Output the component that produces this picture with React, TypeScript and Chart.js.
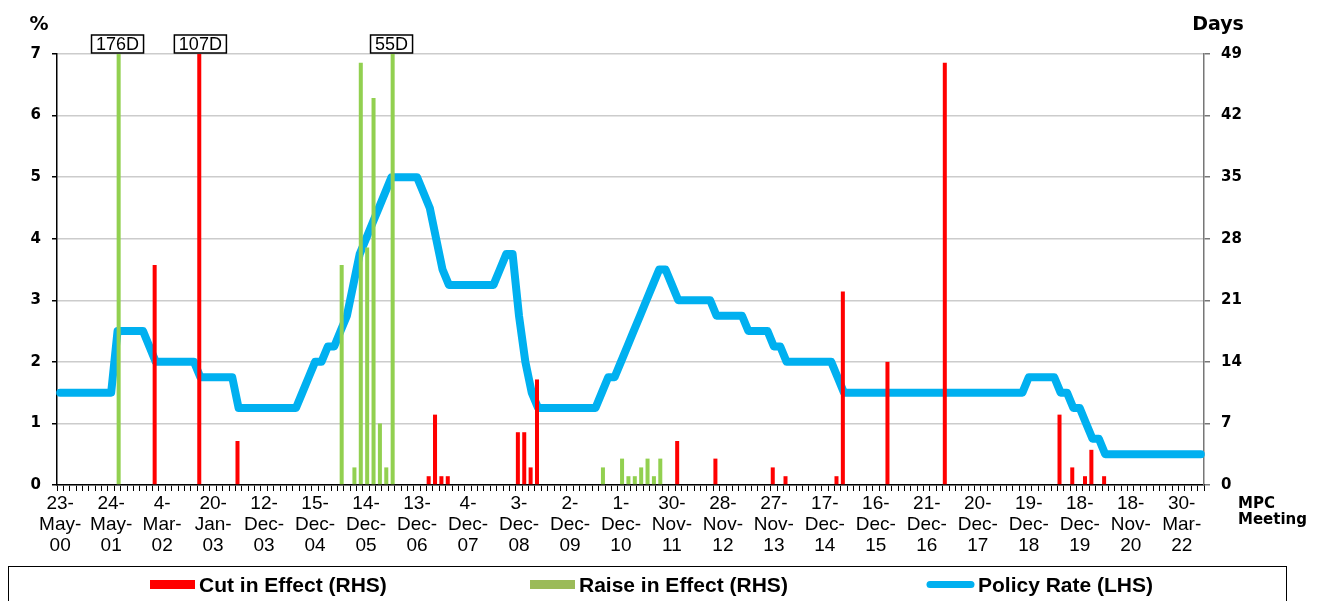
import React, { useEffect, useRef } from 'react';
import { Chart, registerables } from 'chart.js';

Chart.register(...registerables);

// Tick labels: every 8th MPC meeting
const tickDates = [
  '23-May-00', '24-May-01', '4-Mar-02', '20-Jan-03', '12-Dec-03', '15-Dec-04',
  '14-Dec-05', '13-Dec-06', '4-Dec-07', '3-Dec-08', '2-Dec-09', '1-Dec-10',
  '30-Nov-11', '28-Nov-12', '27-Nov-13', '17-Dec-14', '16-Dec-15', '21-Dec-16',
  '20-Dec-17', '19-Dec-18', '18-Dec-19', '18-Nov-20', '30-Mar-22',
];
const tickEvery = 8;

// Policy rate (%) at each MPC meeting
const policyRate = [
  1.5, 1.5, 1.5, 1.5, 1.5, 1.5, 1.5, 1.5,
  1.5, 2.5, 2.5, 2.5, 2.5, 2.5, 2.25, 2.0,
  2.0, 2.0, 2.0, 2.0, 2.0, 2.0, 1.75, 1.75,
  1.75, 1.75, 1.75, 1.75, 1.25, 1.25, 1.25, 1.25,
  1.25, 1.25, 1.25, 1.25, 1.25, 1.25, 1.5, 1.75,
  2.0, 2.0, 2.25, 2.25, 2.5, 2.75, 3.25, 3.75,
  4.0, 4.25, 4.5, 4.75, 5.0, 5.0, 5.0, 5.0,
  5.0, 4.75, 4.5, 4.0, 3.5, 3.25, 3.25, 3.25,
  3.25, 3.25, 3.25, 3.25, 3.25, 3.5, 3.75, 3.75,
  2.75, 2.0, 1.5, 1.25, 1.25, 1.25, 1.25, 1.25,
  1.25, 1.25, 1.25, 1.25, 1.25, 1.5, 1.75, 1.75,
  2.0, 2.25, 2.5, 2.75, 3.0, 3.25, 3.5, 3.5,
  3.25, 3.0, 3.0, 3.0, 3.0, 3.0, 3.0, 2.75,
  2.75, 2.75, 2.75, 2.75, 2.5, 2.5, 2.5, 2.5,
  2.25, 2.25, 2.0, 2.0, 2.0, 2.0, 2.0, 2.0,
  2.0, 2.0, 1.75, 1.5, 1.5, 1.5, 1.5, 1.5,
  1.5, 1.5, 1.5, 1.5, 1.5, 1.5, 1.5, 1.5,
  1.5, 1.5, 1.5, 1.5, 1.5, 1.5, 1.5, 1.5,
  1.5, 1.5, 1.5, 1.5, 1.5, 1.5, 1.5, 1.5,
  1.75, 1.75, 1.75, 1.75, 1.75, 1.5, 1.5, 1.25,
  1.25, 1.0, 0.75, 0.75, 0.5, 0.5, 0.5, 0.5,
  0.5, 0.5, 0.5, 0.5, 0.5, 0.5, 0.5, 0.5,
  0.5, 0.5, 0.5, 0.5,
];

// Cuts in effect: meeting index and days
const cutMeetings = [15, 22, 28, 58, 59, 60, 61, 72, 73, 74, 75, 97, 103, 112, 114, 122, 123, 130, 139, 157, 159, 161, 162, 164];
const cutDays = [25, 107, 5, 1, 8, 1, 1, 6, 6, 2, 12, 5, 3, 2, 1, 1, 22, 14, 48, 8, 2, 1, 4, 1];

// Raises in effect: meeting index and days
const raiseMeetings = [9, 44, 46, 47, 48, 49, 50, 51, 52, 85, 88, 89, 90, 91, 92, 93, 94];
const raiseDays = [176, 25, 2, 48, 27, 44, 7, 2, 55, 2, 3, 1, 1, 2, 3, 1, 3];

const seriesNames = ['Cut in Effect (RHS)', 'Raise in Effect (RHS)', 'Policy Rate (LHS)'];
const seriesColors = ['#ff0000', '#92d050', '#00b0f0'];
const legendSwatchColors = ['#ff0000', '#9bbb59', '#00b0f0'];

const meetingLabels = policyRate.map((_, i) => (i % tickEvery === 0 ? tickDates[i / tickEvery] : ''));

function sparse(idx: number[], vals: number[]) {
  const out: (number | null)[] = policyRate.map(() => null);
  idx.forEach((m, k) => { out[m] = vals[k]; });
  return out;
}

const BOLD_V = '"DejaVu Sans", Verdana, sans-serif';
const ARIAL = '"Liberation Sans", Arial, sans-serif';

const overflowLabels = {
  id: 'overflowLabels',
  afterDatasetsDraw(chart: any) {
    const { ctx, chartArea: a } = chart;
    const xs = chart.scales.x;
    ctx.save();
    chart.data.datasets.forEach((ds: any) => {
      if (ds.type !== 'bar') return;
      const ys = chart.scales[ds.yAxisID];
      ds.data.forEach((v: number | null, j: number) => {
        if (v == null || v <= ys.max) return;
        const x = xs.getPixelForValue(j);
        const text = `${v}D`;
        ctx.font = `18px ${ARIAL}`;
        const w = ctx.measureText(text).width + 9;
        const h = 18;
        const top = a.top - 19;
        ctx.fillStyle = '#fff';
        ctx.fillRect(x - w / 2, top, w, h);
        ctx.lineWidth = 1.5;
        ctx.strokeStyle = '#000';
        ctx.strokeRect(x - w / 2, top, w, h);
        ctx.fillStyle = '#000';
        ctx.textAlign = 'center';
        ctx.textBaseline = 'alphabetic';
        ctx.fillText(text, x, a.top - 4);
      });
    });
    ctx.restore();
  },
};

const decorations = {
  id: 'decorations',
  afterDraw(chart: any) {
    const { ctx, chartArea: a } = chart;
    ctx.save();
    ctx.fillStyle = '#000';
    ctx.textBaseline = 'alphabetic';
    ctx.font = `bold 19px ${BOLD_V}`;
    ctx.textAlign = 'center';
    ctx.fillText('%', a.left - 18, a.top - 24);
    ctx.fillText('Days', a.right + 14, a.top - 24);
    ctx.font = `bold 15px ${BOLD_V}`;
    ctx.textAlign = 'left';
    ctx.fillText('MPC', a.right + 34, a.bottom + 23);
    ctx.fillText('Meeting', a.right + 34, a.bottom + 39);

    // legend box
    ctx.lineWidth = 1;
    ctx.strokeStyle = '#000';
    ctx.strokeRect(8.5, 566.5, 1278, 60);
    const itemX = [150, 530, 926];
    chart.data.datasets.forEach((ds: any, k: number) => {
      const x0 = itemX[k];
      let tx;
      if (ds.type === 'bar') {
        ctx.fillStyle = ds.legendColor;
        ctx.fillRect(x0, 580, 45, 9);
        tx = x0 + 49;
      } else {
        ctx.strokeStyle = ds.legendColor;
        ctx.lineWidth = 7;
        ctx.lineCap = 'round';
        ctx.beginPath();
        ctx.moveTo(x0 + 4, 584.5);
        ctx.lineTo(x0 + 45, 584.5);
        ctx.stroke();
        tx = x0 + 52;
      }
      ctx.fillStyle = '#000';
      ctx.font = `bold 21px ${ARIAL}`;
      ctx.textAlign = 'left';
      ctx.fillText(ds.label, tx, 592);
    });
    ctx.restore();
  },
};

export default function App() {
  const ref = useRef<HTMLCanvasElement>(null);

  useEffect(() => {
    const canvas = ref.current;
    if (!canvas) return;
    const chart = new Chart(canvas, {
      type: 'bar',
      data: {
        labels: meetingLabels,
        datasets: [
          {
            type: 'bar',
            label: seriesNames[0],
            data: sparse(cutMeetings, cutDays),
            backgroundColor: seriesColors[0],
            legendColor: legendSwatchColors[0],
            yAxisID: 'y1',
            categoryPercentage: 0.7,
            barPercentage: 1.8,
            clip: 0,
            order: 1,
          } as any,
          {
            type: 'bar',
            label: seriesNames[1],
            data: sparse(raiseMeetings, raiseDays),
            backgroundColor: seriesColors[1],
            legendColor: legendSwatchColors[1],
            yAxisID: 'y1',
            categoryPercentage: 0.7,
            barPercentage: 1.8,
            clip: 0,
            order: 1,
          } as any,
          {
            type: 'line',
            label: seriesNames[2],
            data: policyRate,
            borderColor: seriesColors[2],
            legendColor: legendSwatchColors[2],
            backgroundColor: seriesColors[2],
            borderWidth: 8,
            pointRadius: 0,
            tension: 0,
            borderJoinStyle: 'round',
            borderCapStyle: 'round',
            yAxisID: 'y',
            order: 2,
          } as any,
        ],
      },
      options: {
        responsive: false,
        animation: false,
        devicePixelRatio: 1,
        layout: { padding: { top: 54, left: 0, right: 0, bottom: 0 } },
        plugins: { legend: { display: false }, tooltip: { enabled: false } },
        scales: {
          x: {
            type: 'category',
            offset: true,
            grid: {
              display: true,
              offset: true,
              drawOnChartArea: false,
              drawTicks: true,
              tickLength: 6,
              color: '#000',
              lineWidth: 1,
            },
            border: { display: true, color: '#000', width: 1.5 },
            ticks: {
              autoSkip: false,
              maxRotation: 0,
              minRotation: 0,
              padding: 3,
              color: '#000',
              font: { family: ARIAL, size: 19, lineHeight: 1.08 },
              callback: function (this: any, v: any) {
                const s = this.getLabelForValue(v) as string;
                if (!s) return '';
                const p = s.split('-');
                return [p[0] + '-', p[1] + '-', p[2]];
              },
            },
            afterFit: (s: any) => { s.height = 116; },
          },
          y: {
            position: 'left',
            min: 0,
            max: 7,
            ticks: { stepSize: 1, color: '#000', padding: 11, font: { family: BOLD_V, weight: 'bold', size: 15 } },
            grid: { color: '#cccccc', lineWidth: 1.5, tickLength: 5, tickColor: '#000', drawTicks: true },
            border: { display: true, color: '#000', width: 1.5 },
            afterFit: (s: any) => { s.width = 57; },
          },
          y1: {
            position: 'right',
            min: 0,
            max: 49,
            ticks: { stepSize: 7, color: '#000', padding: 11, font: { family: BOLD_V, weight: 'bold', size: 15 } },
            grid: { drawOnChartArea: false, tickLength: 6, tickColor: '#777', lineWidth: 1.5 },
            border: { display: true, color: '#777', width: 1.5 },
            afterFit: (s: any) => { s.width = 121; },
          },
        },
      } as any,
      plugins: [overflowLabels, decorations],
    });
    return () => chart.destroy();
  }, []);

  return (
    <div style={{ position: 'fixed', left: 0, top: 0, width: 1325, height: 601, background: '#fff' }}>
      <canvas ref={ref} width={1325} height={601} />
    </div>
  );
}
